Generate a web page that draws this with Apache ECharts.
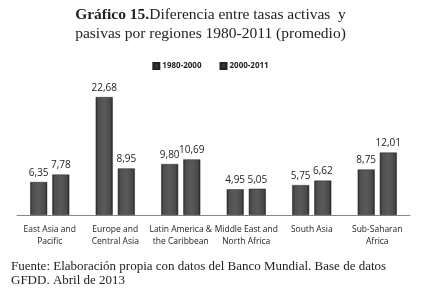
<!DOCTYPE html>
<html>
<head>
<meta charset="utf-8">
<script src="https://cdn.jsdelivr.net/npm/echarts@6/dist/echarts.min.js"></script>
<style>
html,body{margin:0;padding:0;background:#fff;}
#main{width:421px;height:289px;}
</style>
</head>
<body>
<div id="main"></div>
<script>
// datos
var regiones = ['East Asia and\nPacific', 'Europe and\nCentral Asia', 'Latin America &\nthe Caribbean', 'Middle East and\nNorth Africa', 'South Asia', 'Sub-Saharan\nAfrica'];
var periodo1 = [6.35, 22.68, 9.80, 4.95, 5.75, 8.75];   // 1980-2000
var periodo2 = [7.78, 8.95, 10.69, 5.05, 6.62, 12.01];  // 2000-2011
var nombres = ['1980-2000', '2000-2011'];

var chart = echarts.init(document.getElementById('main'));

// barra gris con efecto de relieve
var barColor = new echarts.graphic.LinearGradient(0, 0, 1, 0, [
	{ offset: 0, color: '#2e2e2e' },
	{ offset: 0.15, color: '#4f4f4f' },
	{ offset: 0.5, color: '#5a5a5a' },
	{ offset: 0.85, color: '#4a4a4a' },
	{ offset: 1, color: '#262626' }
]);

function etiqueta(v) {
	return v.value.toFixed(2).replace('.', ',');
}

var serieBase = function (name, data) {
	return {
		name: name,
		type: 'bar',
		data: data,
		barWidth: 17,
		barGap: '30%',
		itemStyle: { color: barColor, borderColor: '#222', borderWidth: 0.5 },
		label: {
			show: true,
			position: 'top',
			distance: 4,
			formatter: etiqueta,
			color: '#222',
			fontFamily: 'Open Sans',
			fontSize: 10
		}
	};
};

var option = {
	animation: false,
	title: [{
		text: '{b|Gráfico 15.}Diferencia entre tasas activas  y\npasivas por regiones 1980-2011 (promedio)',
		left: 'center',
		top: 0,
		textStyle: {
			fontFamily: 'Liberation Serif',
			fontSize: 15.5,
			fontWeight: 'normal',
			color: '#222',
			lineHeight: 19,
			rich: {
				b: { fontFamily: 'Liberation Serif', fontSize: 15.5, fontWeight: 'bold', color: '#222' }
			}
		}
	}, {
		text: 'Fuente: Elaboración propia con datos del Banco Mundial. Base de datos\nGFDD. Abril de 2013',
		left: 6,
		top: 255,
		textStyle: {
			fontFamily: 'Liberation Serif',
			fontSize: 13,
			fontWeight: 'normal',
			color: '#222',
			lineHeight: 14
		}
	}],
	legend: {
		data: nombres,
		top: 57,
		left: 'center',
		itemWidth: 6,
		itemHeight: 6,
		itemGap: 18,
		icon: 'rect',
		textStyle: { fontFamily: 'Open Sans', fontSize: 8, fontWeight: 'bold', color: '#222', padding: [0, 0, 0, -2] },
		itemStyle: { color: '#333' }
	},
	grid: { left: 17, right: 11, top: 85, bottom: 74 },
	xAxis: {
		type: 'category',
		data: regiones,
		axisTick: { show: false },
		axisLine: { lineStyle: { color: '#888', width: 1 } },
		axisLabel: {
			interval: 0,
			fontFamily: 'Open Sans',
			fontSize: 8.5,
			color: '#222',
			lineHeight: 12,
			margin: 9
		}
	},
	yAxis: {
		type: 'value',
		min: 0,
		max: 25,
		show: false,
		splitLine: { show: false }
	},
	series: [serieBase(nombres[0], periodo1), serieBase(nombres[1], periodo2)]
};

chart.setOption(option);
</script>
</body>
</html>
